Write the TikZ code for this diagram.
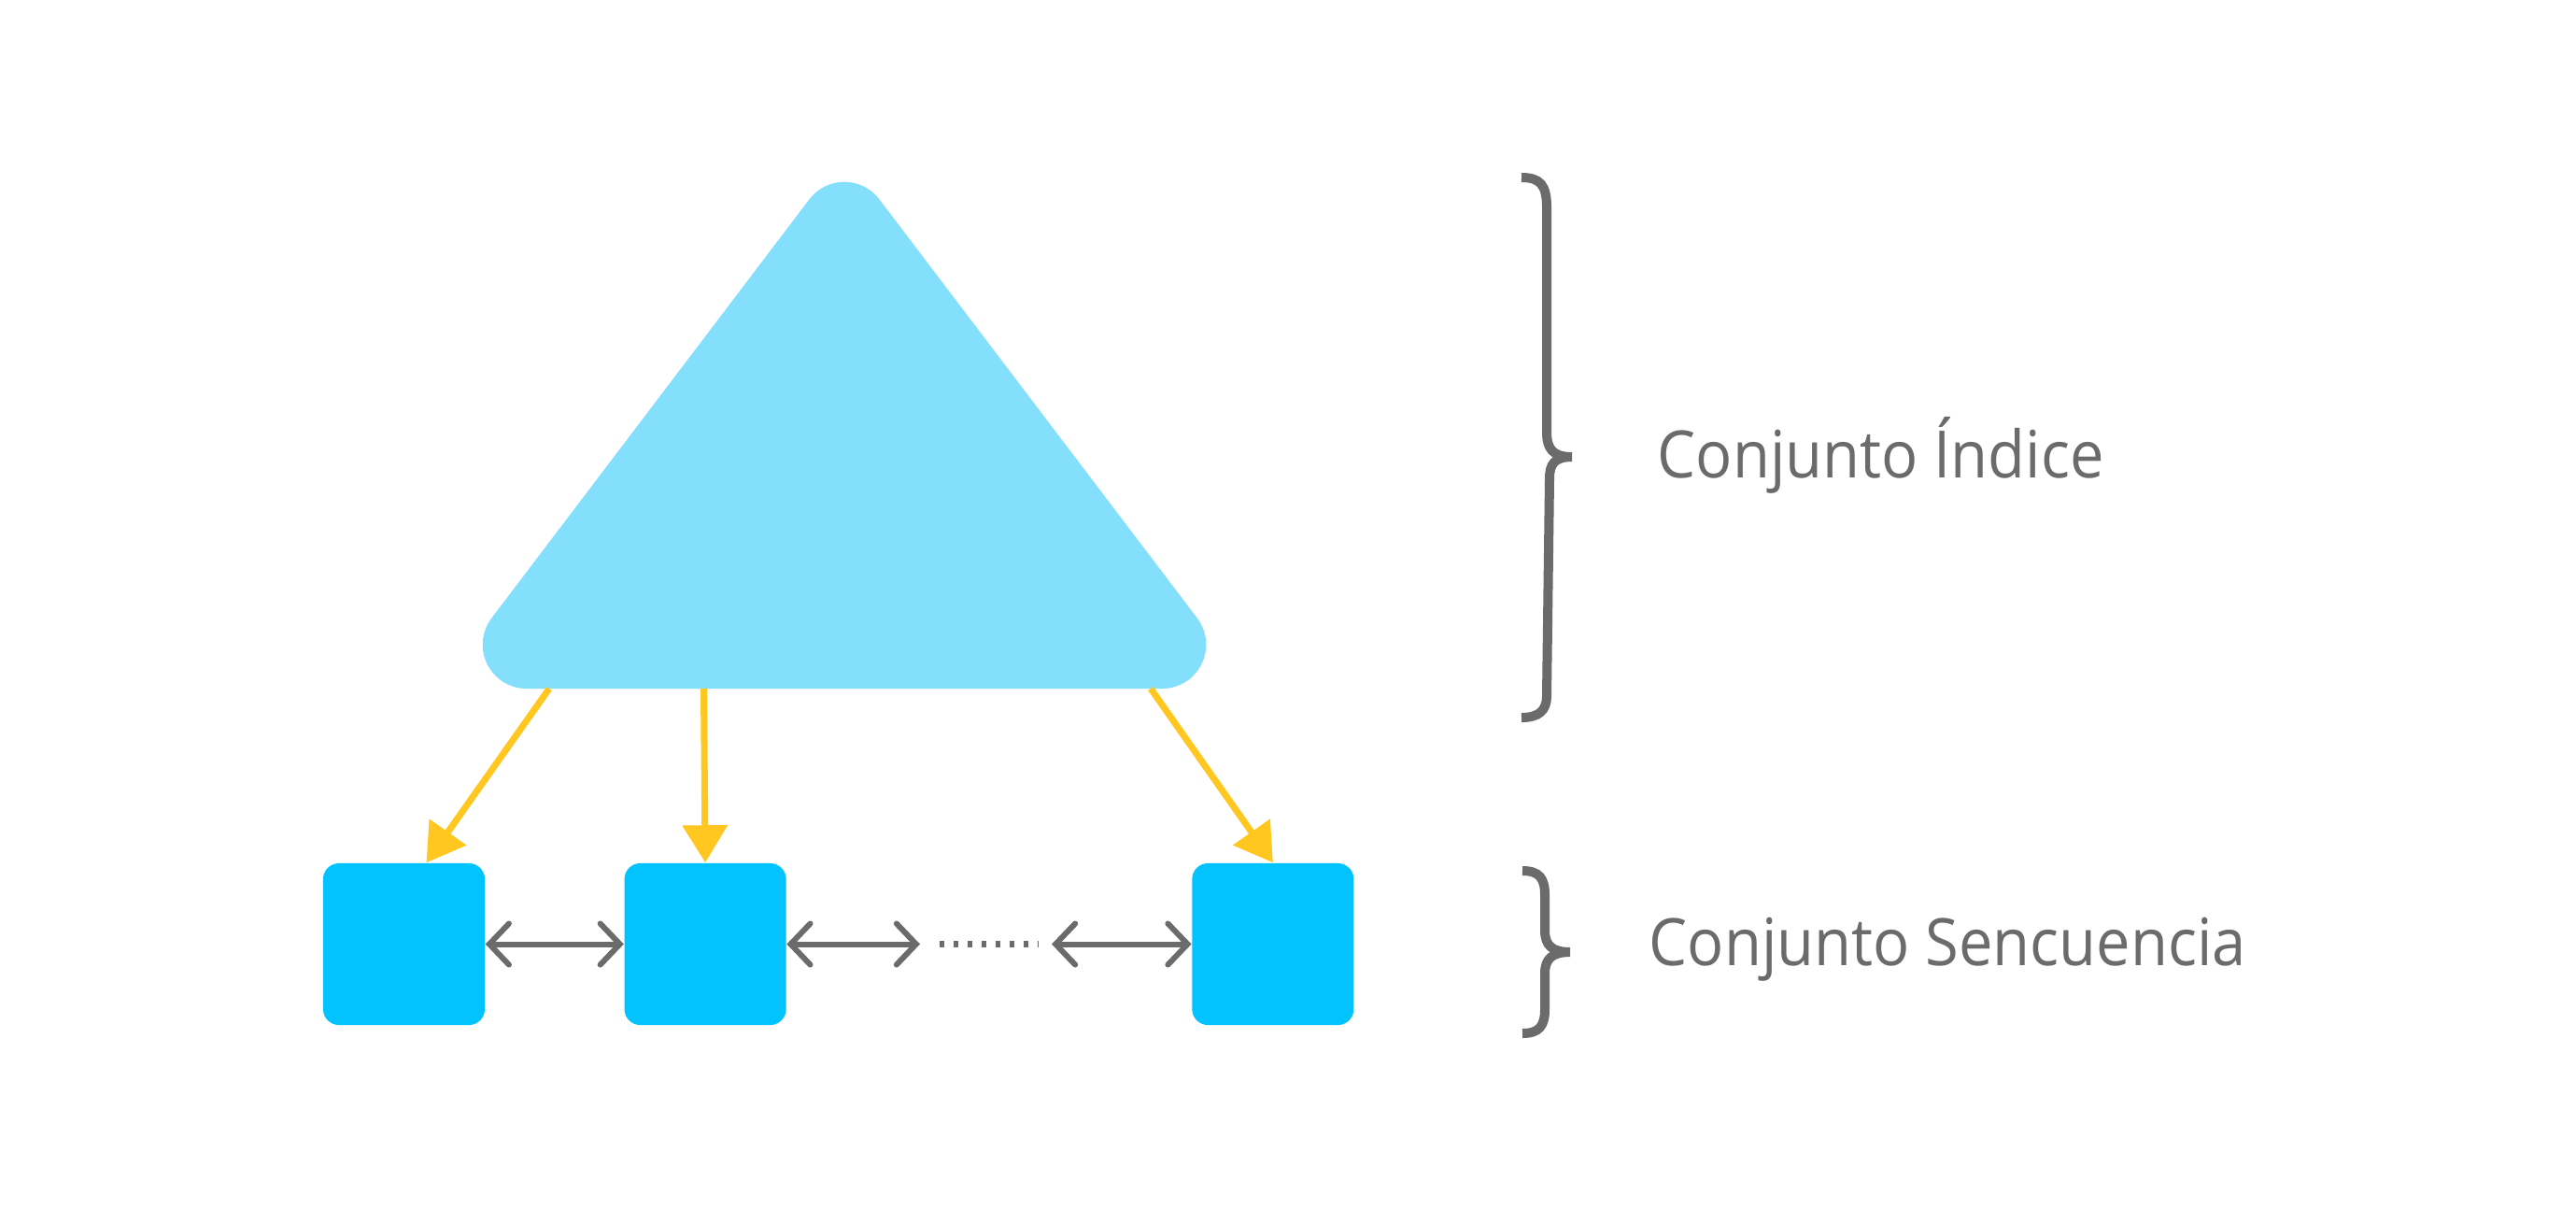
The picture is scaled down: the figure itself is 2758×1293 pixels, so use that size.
\documentclass[tikz,border=0pt]{standalone}
\usepackage{fontspec}
\setmainfont{Open Sans}[FakeStretch=0.93]
\usetikzlibrary{positioning,arrows.meta,calc}
\definecolor{trifill}{HTML}{84DFFD}
\definecolor{boxfill}{HTML}{02C3FD}
\definecolor{linkyellow}{HTML}{FFC720}
\definecolor{textgray}{HTML}{6B6B6B}
\tikzset{
  seqbox/.style={rectangle,rounded corners=1.7mm,fill=boxfill,minimum size=1.73cm,inner sep=0pt},
  mapedge/.style={-{Triangle[length=4mm,width=4.7mm]},line width=0.7mm,draw=linkyellow},
  linkedge/.style={{Straight Barb[length=2.1mm,width=4.4mm,line cap=round]}-{Straight Barb[length=2.1mm,width=4.4mm,line cap=round]},line width=0.6mm,draw=textgray},
  dotline/.style={draw=textgray,line width=0.7mm,dash pattern=on 0.45mm off 1.05mm},
  bracepath/.style={draw=textgray,line width=1mm},
  setlabel/.style={text=textgray,inner sep=0pt,font=\fontsize{19.9}{24}\selectfont}
}
\begin{document}
\begin{tikzpicture}[x=0.01cm,y=-0.01cm]
  \useasboundingbox[fill=white] (0,0) rectangle (2758,1293);
  \fill[trifill] (563.7,737) -- (1244.3,737) arc[start angle=90,end angle=-37.2,radius=47]
    -- (941.4,213.3) arc[start angle=-37.2,end angle=-142.8,radius=47]
    -- (526.3,661.6) arc[start angle=-142.8,end angle=-270,radius=47] -- cycle;
  \coordinate (base1) at (588,737);
  \coordinate (base2) at (753.5,737);
  \coordinate (base3) at (1232,737);
  \node[seqbox] (sq1) at (432.5,1010.5) {};
  \node[seqbox,right=1.48cm of sq1] (sq2) {};
  \node[seqbox,right=4.33cm of sq2] (sq3) {};
  \draw[mapedge] (base1) -- ($(sq1.north)+(24,0)$);
  \draw[mapedge] (base2) -- (sq2.north);
  \draw[mapedge] (base3) -- (sq3.north);
  \coordinate (gapL) at (985,1010.5);
  \coordinate (dotL) at (1006,1010.5);
  \coordinate (dotR) at (1112,1010.5);
  \coordinate (gapR) at (1126,1010.5);
  \draw[linkedge] (sq1.east) -- (sq2.west);
  \draw[linkedge] (sq2.east) -- (gapL);
  \draw[dotline] (dotL) -- (dotR);
  \draw[linkedge] (gapR) -- (sq3.west);
  \draw[bracepath] (1629,190) .. controls (1649,190) and (1656,198) .. (1656,222) -- (1656,462)
    .. controls (1656,480) and (1662,489) .. (1683,489)
    .. controls (1664,489) and (1659,497) .. (1659,512) -- (1656,745)
    .. controls (1656,760) and (1648,768) .. (1629,768);
  \draw[bracepath] (1630,932) .. controls (1648,932) and (1654,940) .. (1654,958) -- (1654,996)
    .. controls (1654,1012) and (1662,1019) .. (1681,1019)
    .. controls (1662,1019) and (1654,1026) .. (1654,1042) -- (1654,1080)
    .. controls (1654,1098) and (1648,1106) .. (1630,1106);
  \node[setlabel,anchor=base west] (indexlabel) at (1774,511) {Conjunto Índice};
  \node[setlabel,anchor=base west] (seqlabel) at (1765,1033) {Conjunto Sencuencia};
\end{tikzpicture}
\end{document}
